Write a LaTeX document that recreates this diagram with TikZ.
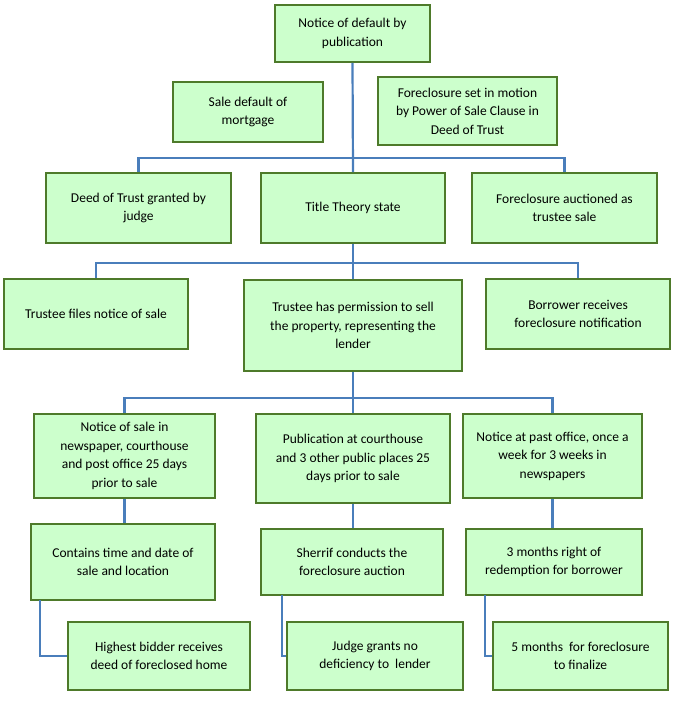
\documentclass[tikz,border=0pt]{standalone}
\usepackage{fontspec}
\setmainfont{Carlito}
\usetikzlibrary{positioning, calc}
\definecolor{boxfill}{HTML}{CCFFCC}
\definecolor{boxline}{HTML}{4E7A2A}
\definecolor{wireblue}{HTML}{4A7EBB}

\begin{document}
\begin{tikzpicture}[x=1pt, y=-1pt,
    box/.style={draw=boxline, line width=1.8pt, fill=boxfill, align=center,
      font=\fontsize{13.5}{18.5}\selectfont, inner sep=2pt},
    wire/.style={wireblue, line width=2.2pt}]
    \useasboundingbox (0, 0) rectangle (678, 720);

    % top level
    \node[box, minimum width=155, minimum height=57] (notice) at (352.5, 33.5) {Notice of default by\\publication};
    \node[box, minimum width=150, minimum height=60] (sale) at (248, 112) {Sale default of\\mortgage};
    \node[box, minimum width=179, minimum height=68] (power) at (467.5, 111) {Foreclosure set in motion\\by Power of Sale Clause in\\Deed of Trust};

    % second level
    \node[box, minimum width=185, minimum height=70] (judge) at (138.5, 208) {Deed of Trust granted by\\judge};
    \node[box, minimum width=184, minimum height=70] (title) at (353, 208) {Title Theory state};
    \node[box, minimum width=185, minimum height=70] (auction) at (564.5, 208) {Foreclosure auctioned as\\trustee sale};

    % third level
    \node[box, minimum width=184, minimum height=70] (files) at (96, 314) {Trustee files notice of sale};
    \node[box, minimum width=218, minimum height=91] (trustee) at (353, 325.5) {Trustee has permission to sell\\the property, representing the\\lender};
    \node[box, minimum width=184, minimum height=70] (borrower) at (578, 314) {Borrower receives\\foreclosure notification};

    % fourth level
    \node[box, minimum width=181, minimum height=84] (paper) at (124.5, 456) {Notice of sale in\\newspaper, courthouse\\and post office 25 days\\prior to sale};
    \node[box, minimum width=194, minimum height=89] (court) at (353, 458.5) {Publication at courthouse\\and 3 other public places 25\\days prior to sale};
    \node[box, minimum width=179, minimum height=84] (office) at (552.5, 456) {Notice at past office, once a\\week for 3 weeks in\\newspapers};

    \node[box, minimum width=184, minimum height=76] (contains) at (123, 562) {Contains time and date of\\sale and location};
    \node[box, minimum width=182, minimum height=66] (sherrif) at (352, 562) {Sherrif conducts the\\foreclosure auction};
    \node[box, minimum width=176, minimum height=66] (months) at (554, 562) {3 months right of\\redemption for borrower};

    \node[box, minimum width=182, minimum height=68] (bidder) at (159, 656) {Highest bidder receives\\deed of foreclosed home};
    \node[box, minimum width=176, minimum height=68] (deficiency) at (375, 656) {Judge grants no\\deficiency to\ \ lender};
    \node[box, minimum width=175, minimum height=68] (finalize) at (580.5, 656) {5 months\ \ for foreclosure\\to finalize};

    % connectors
    \draw[wire] (notice.south) -- (title.north);
    \draw[wire] (judge.north) |- (352, 158) -| (auction.north);
    \draw[wire] (title.south) -- (trustee.north);
    \draw[wire] (files.north) |- (352, 263) -| (borrower.north);
    \draw[wire] (trustee.south) -- (court.north);
    \draw[wire] (paper.north) |- (352, 398) -| (office.north);
    \draw[wire] (paper.south) -- (contains.north -| paper.south);
    \draw[wire] (court.south) -- (court.south |- sherrif.north);
    \draw[wire] (office.south) -- (office.south |- months.north);
    \draw[wire] (40, 600) |- (bidder.west);
    \draw[wire] (282, 595) |- (deficiency.west);
    \draw[wire] (485, 595) |- (finalize.west);
\end{tikzpicture}
\end{document}
